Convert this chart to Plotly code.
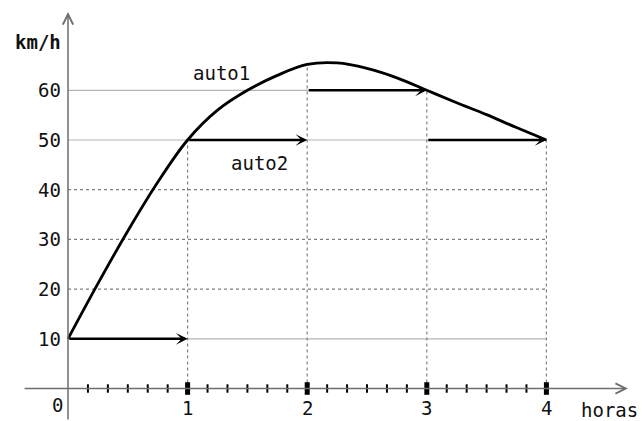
import plotly.graph_objects as go

# auto1: speed (km/h) read every quarter hour, drawn as a smooth curve
auto1_t = [0.0, 0.25, 0.5, 0.75, 1.0, 1.25, 1.5, 1.75, 2.0, 2.25, 2.5, 2.75, 3.0, 3.25, 3.5, 3.75, 4.0]
auto1_v = [10, 21.1, 31.7, 41.5, 50, 56.0, 60, 63.0, 65.2, 65.5, 64.4, 62.5, 60, 57.5, 55.1, 52.5, 50]

# auto2: constant speed on each hour interval
auto2_start = [0, 1, 2, 3]
auto2_end = [1, 2, 3, 4]
auto2_v = [10, 50, 60, 50]

hours = [1, 2, 3, 4]
speed_ticks = [10, 20, 30, 40, 50, 60]
solid_levels = [10, 50, 60]
dotted_levels = [20, 30, 40]
minor_ticks = [h / 6 for h in range(1, 24) if h % 6 != 0]

FONT = "DejaVu Sans Mono"
XR = [-68 / 119.6, (644 - 68) / 119.6]
YR = [(388.5 - 421) / 4.97, 388.5 / 4.97]

fig = go.Figure()

# horizontal reference lines
for lv in solid_levels:
    x_end = 3 if lv == 60 else 4
    fig.add_trace(go.Scatter(x=[0, x_end], y=[lv, lv], mode="lines",
                             line=dict(color="#b4b4b4", width=1.2),
                             hoverinfo="skip", showlegend=False))
for lv in dotted_levels:
    fig.add_trace(go.Scatter(x=[0, 4], y=[lv, lv], mode="lines",
                             line=dict(color="#808080", width=1.2, dash="dot"),
                             hoverinfo="skip", showlegend=False))

# vertical dotted lines from the time axis up to the curve
for h in hours:
    top = auto1_v[auto1_t.index(float(h))]
    fig.add_trace(go.Scatter(x=[h, h], y=[0, top], mode="lines",
                             line=dict(color="#808080", width=1.2, dash="dot"),
                             hoverinfo="skip", showlegend=False))

# auto1 curve
fig.add_trace(go.Scatter(x=auto1_t, y=auto1_v, mode="lines",
                         line=dict(color="black", width=2.8, shape="spline", smoothing=1.0),
                         hoverinfo="skip", showlegend=False))

annotations = []

# axes with open arrowheads
annotations.append(dict(x=4.682, y=0, ax=-0.376, ay=0, xref="x", yref="y",
                        axref="x", ayref="y", text="", showarrow=True,
                        arrowhead=5, arrowsize=1.35, arrowwidth=1.5, arrowcolor="#6e6e6e"))
annotations.append(dict(x=0, y=75.75, ax=0, ay=YR[0], xref="x", yref="y",
                        axref="x", ayref="y", text="", showarrow=True,
                        arrowhead=5, arrowsize=1.35, arrowwidth=1.5, arrowcolor="#6e6e6e"))

# auto2 arrows
for t0, t1, v in zip(auto2_start, auto2_end, auto2_v):
    annotations.append(dict(x=t1, y=v, ax=t0, ay=v, xref="x", yref="y",
                            axref="x", ayref="y", text="", showarrow=True,
                            arrowhead=3, arrowsize=0.75, arrowwidth=2.6, arrowcolor="black"))

# tick marks on the time axis
fig.add_trace(go.Scatter(x=minor_ticks, y=[0] * len(minor_ticks), mode="markers",
                         marker=dict(symbol="line-ns", size=6, line=dict(width=2, color="black")),
                         hoverinfo="skip", showlegend=False))
fig.add_trace(go.Scatter(x=hours, y=[0] * len(hours), mode="markers",
                         marker=dict(symbol="line-ns", size=9, line=dict(width=5, color="black")),
                         hoverinfo="skip", showlegend=False))

txt = dict(family=FONT, size=19, color="#111111")

for v in speed_ticks:
    annotations.append(dict(x=-0.04, y=v, xref="x", yref="y", text=str(v),
                            showarrow=False, xanchor="right", yanchor="middle", font=txt))
for h in hours:
    annotations.append(dict(x=h, y=-3.9, xref="x", yref="y", text=str(h),
                            showarrow=False, xanchor="center", yanchor="middle", font=txt))
annotations.append(dict(x=-0.092, y=-3.3, xref="x", yref="y", text="0",
                        showarrow=False, xanchor="center", yanchor="middle", font=txt))
annotations.append(dict(x=4.528, y=-4.33, xref="x", yref="y", text="horas",
                        showarrow=False, xanchor="center", yanchor="middle", font=txt))
annotations.append(dict(x=-0.255, y=69.7, xref="x", yref="y", text="<b>km/h</b>",
                        showarrow=False, xanchor="center", yanchor="middle", font=txt))
annotations.append(dict(x=1.28, y=63.5, xref="x", yref="y", text="auto1",
                        showarrow=False, xanchor="center", yanchor="middle", font=txt))
annotations.append(dict(x=1.60, y=45.4, xref="x", yref="y", text="auto2",
                        showarrow=False, xanchor="center", yanchor="middle", font=txt))

fig.update_layout(
    width=644, height=421,
    margin=dict(l=0, r=0, t=0, b=0),
    paper_bgcolor="white", plot_bgcolor="white",
    xaxis=dict(range=XR, visible=False, fixedrange=True),
    yaxis=dict(range=YR, visible=False, fixedrange=True),
    annotations=annotations,
    showlegend=False,
)

fig.write_html("out.html")
